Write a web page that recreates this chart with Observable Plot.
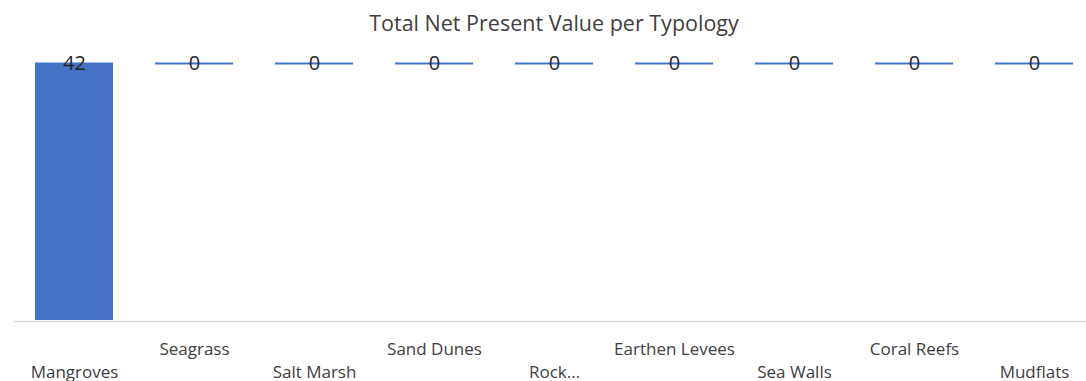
<!DOCTYPE html>
<html><head><meta charset="utf-8">
<script src="https://cdn.jsdelivr.net/npm/d3@7"></script>
<script src="https://cdn.jsdelivr.net/npm/@observablehq/plot@0.6"></script>
<style>
body{margin:0;background:#fff;}
#wrap{position:relative;width:1086px;height:381px;overflow:hidden;font-family:"Open Sans",sans-serif;}
#title{position:absolute;top:8px;left:0;width:1108px;text-align:center;font-size:21.5px;color:#404040;line-height:30px;}
</style>
</head><body>
<div id="wrap"><div id="title">Total Net Present Value per Typology</div><div id="chart"></div></div>
<script>
const categories = ["Mangroves","Seagrass","Salt Marsh","Sand Dunes","Rock...","Earthen Levees","Sea Walls","Coral Reefs","Mudflats"];
const values = [42,0,0,0,0,0,0,0,0];
const yMax = 42;

const data = categories.map((c,i)=>({name:c, value:values[i], row:i%2}));

const chart = Plot.plot({
  width:1086, height:381,
  marginTop:63, marginBottom:61, marginLeft:14, marginRight:0,
  style:{fontFamily:"Open Sans, sans-serif", background:"#fff", overflow:"visible"},
  x:{domain:categories, range:[14,1094], paddingInner:0.35, paddingOuter:0.175, axis:null},
  y:{domain:[0,yMax], reverse:true, axis:null},
  marks:[
    Plot.ruleY([0],{stroke:"#d9d9d9", strokeWidth:1.5, x1:14, x2:1094}),
    Plot.barY(data,{x:"name", y:"value", fill:"#4472C4"}),
    Plot.tickY(data,{x:"name", y:0, stroke:"#4472C4", strokeWidth:2}),
    Plot.ruleY([yMax],{stroke:"#d9d9d9", strokeWidth:1.5, dy:1}),
    Plot.text(data,{x:"name", y:0, text:d=>String(d.value), fontSize:20, fill:"#262626", dy:0}),
    Plot.text(data.filter(d=>d.row===1),{x:"name", text:"name", frameAnchor:"bottom", dy:34, fontSize:17, fill:"#404040"}),
    Plot.text(data.filter(d=>d.row===0),{x:"name", text:"name", frameAnchor:"bottom", dy:57, fontSize:17, fill:"#404040"})
  ]
});
document.getElementById("chart").appendChild(chart);
</script>
</body></html>
